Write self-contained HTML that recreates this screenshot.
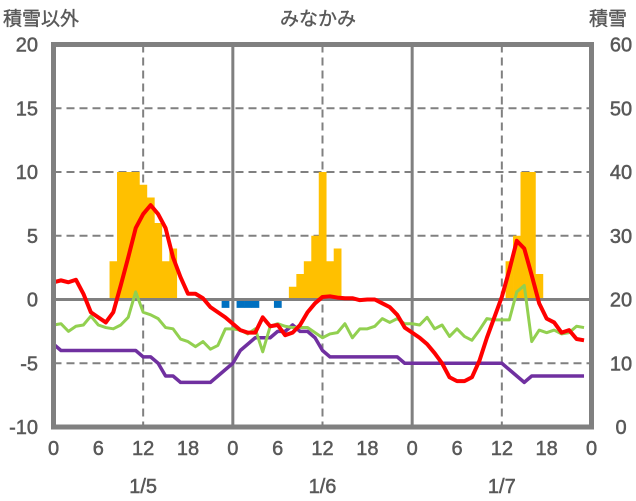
<!DOCTYPE html>
<html><head><meta charset="utf-8"><style>
html,body{margin:0;padding:0;background:#fff;}
svg{display:block;font-family:"Liberation Sans","Noto Sans CJK JP",sans-serif;}
</style></head><body>
<svg id="chart" width="636" height="501" viewBox="0 0 636 501" xmlns="http://www.w3.org/2000/svg"></svg>
<script>
const yTicksLeft=[20,15,10,5,0,-5,-10];
const yTicksRight=[60,50,40,30,20,10,0];
const xTickLabels=["0","6","12","18","0","6","12","18","0","6","12","18","0"];
const dateLabels=["1/5","1/6","1/7"];
const snowfall=[[8,3],[9,10],[10,10],[11,10],[12,9],[13,8],[14,6],[15,3],[16,4],[32,1],[33,2],[34,3],[35,5],[36,10],[37,3],[38,4],[61,3],[62,5],[63,10],[64,10],[65,2]];
const snowDecrease=[[23,-0.5],[25,-0.5],[26,-0.5],[27,-0.5],[30,-0.5]];
const temp=[1.35,1.5,1.35,1.55,0.45,-1.0,-1.4,-1.8,-1.0,1.1,3.3,5.6,6.7,7.4,6.7,5.6,3.3,1.75,0.45,0.45,0.1,-0.6,-1.0,-1.4,-1.9,-2.4,-2.6,-2.6,-1.4,-2.1,-2.0,-2.8,-2.6,-2.0,-1.0,-0.3,0.2,0.25,0.15,0.1,0.1,-0.05,0,0,-0.3,-0.6,-1.2,-2.2,-2.6,-3.0,-3.5,-4.2,-5.0,-6.1,-6.4,-6.4,-6.1,-4.8,-3.0,-1.4,0.2,2.3,4.6,4.0,1.9,-0.3,-1.5,-1.8,-2.6,-2.4,-3.1,-3.2];
const dew=[-2.0,-1.9,-2.5,-2.1,-2.0,-1.3,-2.0,-2.2,-2.3,-2.0,-1.4,0.6,-1.0,-1.2,-1.5,-2.2,-2.3,-3.1,-3.3,-3.7,-3.3,-3.9,-3.6,-2.3,-2.3,-2.4,-2.7,-2.3,-4.1,-2.1,-1.9,-2.1,-2.2,-2.2,-2.2,-2.6,-3.0,-2.7,-2.6,-1.9,-3.0,-2.3,-2.3,-2.1,-1.5,-1.8,-1.5,-1.9,-1.9,-2.0,-1.4,-2.3,-2.0,-2.9,-2.3,-2.9,-3.2,-2.4,-1.5,-1.6,-1.6,-1.6,0.6,1.1,-3.3,-2.4,-2.6,-2.4,-2.7,-2.6,-2.1,-2.2];
const depth=[-3.5,-4,-4,-4,-4,-4,-4,-4,-4,-4,-4,-4,-4.5,-4.5,-5,-6,-6,-6.5,-6.5,-6.5,-6.5,-6.5,-6,-5.5,-5,-4,-3.5,-3,-3,-3,-2.5,-2.5,-2,-2.5,-2.5,-3,-4,-4.5,-4.5,-4.5,-4.5,-4.5,-4.5,-4.5,-4.5,-4.5,-4.5,-5,-5,-5,-5,-5,-5,-5,-5,-5,-5,-5,-5,-5,-5,-5.5,-6,-6.5,-6,-6,-6,-6,-6,-6,-6,-6];

const NS="http://www.w3.org/2000/svg";
const svg=document.getElementById('chart');
const X0=53.5,X1=591.5,YT=44.5,YB=427;
const x=h=>X0+h*(X1-X0)/72;
const y=v=>YB-(v+10)*(YB-YT)/30;
function mk(tag,attrs,parent){const e=document.createElementNS(NS,tag);for(const k in attrs)e.setAttribute(k,attrs[k]);(parent||svg).appendChild(e);return e;}
const grid=mk('g',{});


yTicksLeft.forEach(v=>{if(v===20||v===-10||v===0)return;
 const l=mk('line',{x1:X0,x2:X1,y1:y(v),y2:y(v),stroke:'#808080','stroke-width':2,'stroke-dasharray':'8,5'},grid);
 
 });
[12,36,60].forEach(h=>{const l=mk('line',{x1:x(h),x2:x(h),y1:YT,y2:YB,stroke:'#808080','stroke-width':2,'stroke-dasharray':'8,5'},grid);
 
 });
[24,48].forEach(h=>{const l=mk('line',{x1:x(h),x2:x(h),y1:YT,y2:YB,stroke:'#808080','stroke-width':3},grid);
 
 });
const bw=(X1-X0)/72;
snowfall.forEach(([h,v])=>{const r=mk('rect',{x:x(h)-bw/2,y:y(v),width:bw+0.3,height:y(0)-y(v),fill:'#FFC000'});
 
 });
snowDecrease.forEach(([h,v])=>{const r=mk('rect',{x:x(h)-bw/2,y:y(0),width:bw+0.3,height:y(v)-y(0)+2,fill:'#0070C0'});
 
 });
const zl=mk('line',{x1:X0,x2:X1,y1:y(0),y2:y(0),stroke:'#808080','stroke-width':3});


function line(arr,color,w,name){const p=mk('polyline',{points:arr.map((v,i)=>x(i)+','+y(v)).join(' '),fill:'none',stroke:color,'stroke-width':w,'stroke-linejoin':'round'});
 
 }
line(depth,'#7030A0',3.5,'snow-depth-line');
line(dew,'#92D050',3,'dewpoint-line');
line(temp,'#FF0000',4,'temperature-line');
const fr=mk('rect',{x:X0,y:YT,width:X1-X0,height:YB-YT,fill:'none',stroke:'#808080','stroke-width':5});


const ts={'font-size':20,fill:'#595959',stroke:'#595959','stroke-width':0.5};
function txt(s,ax,ay,anchor,name){const t=mk('text',Object.assign({x:ax,y:ay,'text-anchor':anchor},ts));t.textContent=s;
 
 }
yTicksLeft.forEach(v=>txt(v,38,y(v)+7,'end','left-tick-label'));
yTicksRight.forEach((v,i)=>txt(v,621,y(yTicksLeft[i])+7,'middle','right-tick-label'));
xTickLabels.forEach((s,i)=>txt(s,x(i*6),455,'middle','x-tick-label'));
dateLabels.forEach((s,i)=>txt(s,x(12+24*i),493,'middle','date-label'));
</script>
<div style="position:absolute;left:3px;top:4px;font:19px 'Liberation Sans','Noto Sans CJK JP',sans-serif;color:#595959;-webkit-text-stroke:0.4px #595959">積雪以外</div>
<div style="position:absolute;left:0;width:636px;top:4px;text-align:center;font:19px 'Liberation Sans','Noto Sans CJK JP',sans-serif;color:#595959;-webkit-text-stroke:0.4px #595959">みなかみ</div>
<div style="position:absolute;left:589px;top:4px;font:19px 'Liberation Sans','Noto Sans CJK JP',sans-serif;color:#595959;-webkit-text-stroke:0.4px #595959">積雪</div>
</body></html>
